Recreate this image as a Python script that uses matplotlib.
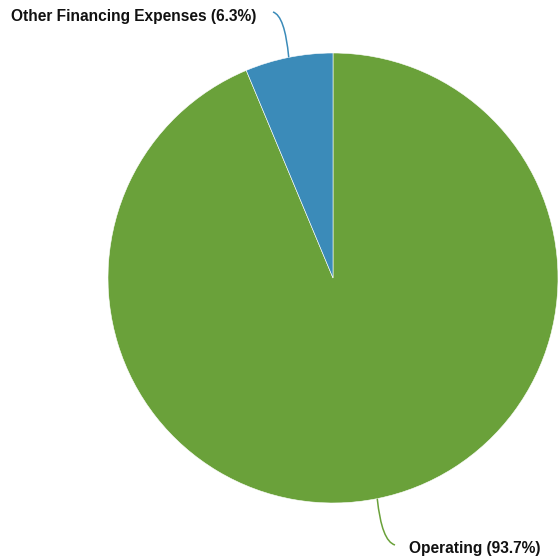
import matplotlib.pyplot as plt
import numpy as np
from matplotlib.path import Path
from matplotlib.patches import PathPatch

# slice data
labels = ["Operating", "Other Financing Expenses"]
values = [93.7, 6.3]
colors = ["#6aa13a", "#3b8bb9"]

# pie placement in pixel units (figure is 560 x 560)
cx, cy, r = 333, 282, 225

fig = plt.figure(figsize=(5.6, 5.6), dpi=100)
ax = fig.add_axes([0, 0, 1, 1])

wedges, _ = ax.pie(values, colors=colors, startangle=90, counterclock=False,
                   center=(cx, cy), radius=r, frame=True,
                   wedgeprops=dict(edgecolor="white", linewidth=0.4))
ax.set_xlim(0, 560)
ax.set_ylim(0, 560)
ax.set_aspect("equal")
ax.axis("off")

total = sum(values)
# label end points and text anchor, per slice
ends = [(395, 15), (273, 548)]
text_pos = [(409, 12, "left"), (256, 543, "right")]

for w, lab, val, col, (ex, ey), (tx, ty, ha) in zip(wedges, labels, values, colors, ends, text_pos):
    mid = np.deg2rad((w.theta1 + w.theta2) / 2)
    sx, sy = cx + r * np.cos(mid), cy + r * np.sin(mid)
    # bend the leader near its outer end
    ctrl = (sx + (ex - sx) * 0.25, ey + (sy - ey) * 0.08)
    path = Path([(sx, sy), ctrl, (ex, ey)], [Path.MOVETO, Path.CURVE3, Path.CURVE3])
    ax.add_patch(PathPatch(path, fill=False, edgecolor=col, linewidth=1.1))
    ax.text(tx, ty, f"{lab} ({val / total * 100:.1f}%)", ha=ha, va="center",
            fontsize=11.2, fontweight="bold", family="Liberation Sans", color="#111111")

fig.savefig("out.png", dpi=100)
